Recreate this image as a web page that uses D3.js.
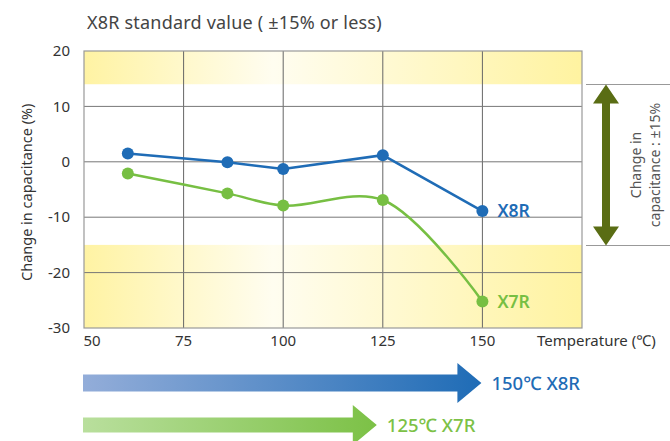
<!DOCTYPE html>
<html>
<head>
<meta charset="utf-8">
<script src="https://cdn.jsdelivr.net/npm/d3@7"></script>
<style>
  html, body { margin: 0; padding: 0; background: #fff; }
  svg { display: block; font-family: "Noto Sans", "Open Sans", sans-serif; }
</style>
</head>
<body>
<svg id="chart" width="670" height="441"></svg>
<script>
// --- data ---
const temps      = [61, 86, 100, 125, 150];
const x8rValues  = [1.5, -0.1, -1.3, 1.2, -8.9];
const x7rValues  = [-2.1, -5.7, -7.9, -6.9, -25.2];
const xTicks     = [50, 75, 100, 125, 150];
const yTicks     = [20, 10, 0, -10, -20, -30];
const bands      = [[14, 20], [-30, -15]];
const rangeArrows = [
  { label: "150℃ X8R", end: 150, color: "#1f6cb6", light: "#93add9" },
  { label: "125℃ X7R", end: 125, color: "#7cc146", light: "#b9df9d" }
];

const svg = d3.select("#chart");
const margin = { top: 51, left: 84, right: 88, bottom: 113 };
const W = 670, H = 441;

const x = d3.scaleLinear().domain([50, 175]).range([margin.left, W - margin.right]);
const y = d3.scaleLinear().domain([-30, 20]).range([H - margin.bottom, margin.top]);

const defs = svg.append("defs");
const bandGrad = defs.append("linearGradient").attr("id", "bandGrad")
  .attr("gradientUnits", "userSpaceOnUse")
  .attr("x1", x(50)).attr("x2", x(175)).attr("y1", 0).attr("y2", 0);
bandGrad.append("stop").attr("offset", "0%").attr("stop-color", "#fff3a3");
bandGrad.append("stop").attr("offset", "38%").attr("stop-color", "#fffdf0");
bandGrad.append("stop").attr("offset", "100%").attr("stop-color", "#fff3a0");

// title
svg.append("text")
  .attr("x", 87).attr("y", 29)
  .style("font-size", "18px").style("fill", "#444").style("letter-spacing", "0.2px")
  .text("X8R standard value ( ±15% or less)");

// yellow bands outside the ±15% range
svg.selectAll(".band").data(bands).enter().append("rect")
  .attr("class", "band")
  .attr("x", x(50)).attr("width", x(175) - x(50))
  .attr("y", d => y(d[1])).attr("height", d => y(d[0]) - y(d[1]))
  .attr("fill", "url(#bandGrad)");

// grid
svg.selectAll(".vgrid").data(xTicks.slice(1)).enter().append("line")
  .attr("x1", d => x(d)).attr("x2", d => x(d))
  .attr("y1", y(20)).attr("y2", y(-30))
  .attr("stroke", "#666").attr("stroke-width", 1);
svg.selectAll(".hgrid").data(yTicks.slice(1, -1)).enter().append("line")
  .attr("x1", x(50)).attr("x2", x(175))
  .attr("y1", d => y(d)).attr("y2", d => y(d))
  .attr("stroke", "#777").attr("stroke-width", 1);

svg.append("rect")
  .attr("x", x(50)).attr("y", y(20))
  .attr("width", x(175) - x(50)).attr("height", y(-30) - y(20))
  .attr("fill", "none").attr("stroke", "#999").attr("stroke-width", 1.2);

// tick labels
svg.selectAll(".ytick").data(yTicks).enter().append("text")
  .attr("x", 70).attr("y", d => y(d)).attr("dy", "0.35em")
  .attr("text-anchor", "end")
  .style("font-size", "15px").style("fill", "#333")
  .text(d => d);
svg.selectAll(".xtick").data(xTicks).enter().append("text")
  .attr("x", d => x(d) + (d === 50 ? 8 : 0)).attr("y", 346)
  .attr("text-anchor", "middle")
  .style("font-size", "15px").style("fill", "#333")
  .text(d => d);

svg.append("text")
  .attr("x", 537).attr("y", 346)
  .style("font-size", "15px").style("fill", "#333")
  .text("Temperature (℃)");

svg.append("text")
  .attr("transform", `translate(32,${y(-5.5)}) rotate(-90)`)
  .attr("text-anchor", "middle")
  .style("font-size", "14.5px").style("fill", "#333")
  .text("Change in capacitance (%)");

// series
const series = [
  { name: "X8R", values: x8rValues, color: "#1f6cb6", curve: d3.curveLinear },
  { name: "X7R", values: x7rValues, color: "#77bf43", curve: d3.curveCatmullRom }
];

series.forEach(s => {
  const pts = temps.map((t, i) => [t, s.values[i]]);
  svg.append("path")
    .attr("d", d3.line().x(d => x(d[0])).y(d => y(d[1])).curve(s.curve)(pts))
    .attr("fill", "none").attr("stroke", s.color).attr("stroke-width", 2.5);
  svg.selectAll(null).data(pts).enter().append("circle")
    .attr("cx", d => x(d[0])).attr("cy", d => y(d[1])).attr("r", 6)
    .attr("fill", s.color);
  const last = pts[pts.length - 1];
  svg.append("text")
    .attr("x", x(last[0]) + 15).attr("y", y(last[1])).attr("dy", "0.35em")
    .style("font-size", "17.5px").style("font-weight", "600").style("fill", s.color)
    .text(s.name);
});

// right annotation: ±15% bracket
const bracketY = [84.5, 245.5];
svg.selectAll(".bracket").data(bracketY).enter().append("line")
  .attr("x1", 586).attr("x2", 670)
  .attr("y1", d => d).attr("y2", d => d)
  .attr("stroke", "#999").attr("stroke-width", 1);

const ax = 606, yTop = bracketY[0], yBot = bracketY[1];
svg.append("path")
  .attr("d", `M${ax},${yTop} L${ax + 13},${yTop + 19} L${ax + 4},${yTop + 19} L${ax + 4},${yBot - 19}
              L${ax + 13},${yBot - 19} L${ax},${yBot} L${ax - 13},${yBot - 19} L${ax - 4},${yBot - 19}
              L${ax - 4},${yTop + 19} L${ax - 13},${yTop + 19} Z`)
  .attr("fill", "#5a6d14");

const note = svg.append("text")
  .attr("transform", `translate(641,${(yTop + yBot) / 2}) rotate(-90)`)
  .attr("text-anchor", "middle")
  .style("font-size", "14px").style("fill", "#555");
note.append("tspan").attr("x", 0).attr("dy", 0).text("Change in");
note.append("tspan").attr("x", 0).attr("dy", 19).text("capacitance : ±15%");

// temperature range arrows below the chart
const arrowRows = [383, 425];
rangeArrows.forEach((a, i) => {
  const cy = arrowRows[i];
  const gid = "arrowGrad" + i;
  const g = defs.append("linearGradient").attr("id", gid);
  g.append("stop").attr("offset", "0%").attr("stop-color", a.light);
  g.append("stop").attr("offset", "100%").attr("stop-color", a.color);
  const x0 = x(50) - 1, tip = x(a.end) - (i === 0 ? 1 : 6);
  const bh = i === 0 ? 8.5 : 7.5, hh = 20, hl = 24;
  svg.append("path")
    .attr("d", `M${x0},${cy - bh} L${tip - hl},${cy - bh} L${tip - hl},${cy - hh} L${tip},${cy}
                L${tip - hl},${cy + hh} L${tip - hl},${cy + bh} L${x0},${cy + bh} Z`)
    .attr("fill", `url(#${gid})`);
  svg.append("text")
    .attr("x", tip + 10).attr("y", cy).attr("dy", "0.36em")
    .style("font-size", "18.5px").style("font-weight", "500").style("fill", a.color)
    .text(a.label);
});
</script>
</body>
</html>
